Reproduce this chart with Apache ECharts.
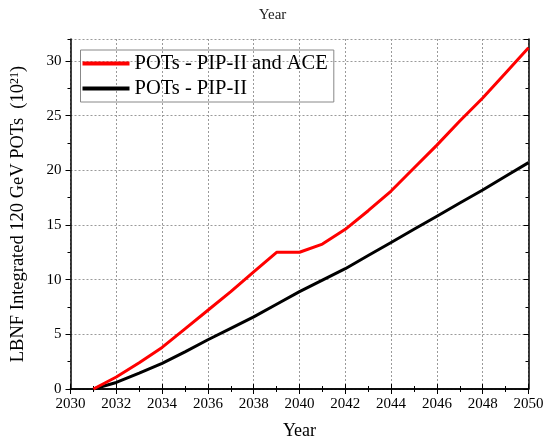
<!DOCTYPE html>
<html>
<head>
<meta charset="utf-8">
<script src="https://cdn.jsdelivr.net/npm/echarts@6/dist/echarts.min.js"></script>
<style>html,body{margin:0;padding:0;background:#fff}#c{width:545px;height:439px}</style>
</head>
<body>
<div id="c"></div>
<script>
const years = [2031,2032,2033,2034,2035,2036,2037,2038,2039,2040,2041,2042,2043,2044,2045,2046,2047,2048,2049,2050];
const potsAce = [0,1.1,2.4,3.8,5.5,7.2,8.9,10.7,12.5,12.5,13.25,14.6,16.3,18.1,20.2,22.3,24.5,26.6,28.9,31.2];
const potsPip = [0,0.6,1.45,2.35,3.4,4.5,5.55,6.6,7.75,8.9,9.95,11.0,12.2,13.4,14.6,15.8,17.0,18.2,19.45,20.7];
const seriesNames = ['POTs - PIP-II and ACE','POTs - PIP-II'];

const font = 'Liberation Serif, Times New Roman, serif';
const chart = echarts.init(document.getElementById('c'), null, {renderer:'canvas'});
const X = {type:'value',min:2030,max:2050};
const Y = {type:'value',min:0,max:32};
function ax(base, extra, opts){
  return Object.assign({}, base, {
    axisLine:{show:!!opts.line,lineStyle:{color:'#000',width:1.5}},
    axisTick:{show:!!opts.tick,inside:!opts.out,length:opts.len||5,lineStyle:{color:'#000',width:1}},
    minorTick:{show:false},minorSplitLine:{show:false},
    splitLine:{show:!!opts.grid,lineStyle:{color:'#9a9a9a',type:[2,2],width:1}},
    axisLabel:{show:false},
    axisPointer:{show:false}
  }, extra);
}
chart.setOption({
  animation:false,
  backgroundColor:'#fff',
  title:{text:'Year',left:'center',top:3,textStyle:{fontFamily:font,fontSize:15,fontWeight:'normal',color:'#222'}},
  grid:{left:70.5,right:16.5,top:39,bottom:50,outerBoundsMode:'none',containLabel:false},
  legend:{
    orient:'vertical',left:80.5,top:50,
    borderColor:'#888',borderWidth:1,padding:[3,6,3,2],itemGap:4,
    icon:'rect',itemWidth:47,itemHeight:4,
    textStyle:{fontFamily:font,fontSize:20.5,color:'#000'},
    data:seriesNames
  },
  xAxis:[
    ax(X,{interval:2,position:'bottom',name:'Year',nameLocation:'middle',nameGap:33,
      nameTextStyle:{fontFamily:font,fontSize:18,color:'#000'},
      axisLabel:{show:true,fontFamily:font,fontSize:15,color:'#000',margin:8,formatter:v=>String(v)}},
      {line:true,tick:true,grid:true}),
    ax(X,{interval:2,position:'top'},{line:true,tick:true}),
    ax(X,{interval:1,position:'bottom'},{tick:true,len:3}),
    ax(X,{interval:1,position:'top'},{tick:true,len:3})
  ],
  yAxis:[
    ax(Y,{interval:5,position:'left',
      name:'LBNF Integrated 120 GeV POTs  (10{sup|21})',nameLocation:'middle',nameGap:42,
      nameTextStyle:{fontFamily:font,fontSize:18.5,color:'#000',
        rich:{sup:{fontFamily:font,fontSize:12,color:'#000',verticalAlign:'top',padding:[0,0,8,0]}}},
      axisLabel:{show:true,fontFamily:font,fontSize:15,color:'#000',margin:9,showMaxLabel:false,
        formatter:v=>(v%5===0?String(v):'')}},
      {line:true,tick:true,out:true,grid:true}),
    ax(Y,{interval:5,position:'right'},{line:true,tick:true}),
    ax(Y,{interval:2.5,position:'left'},{tick:true,out:true,len:3}),
    ax(Y,{interval:2.5,position:'right'},{tick:true,len:3})
  ],
  series:[
    {name:seriesNames[0],type:'line',xAxisIndex:0,yAxisIndex:0,showSymbol:false,
      data:years.map((y,i)=>[y,potsAce[i]]),lineStyle:{color:'#ff0000',width:3},itemStyle:{color:'#ff0000'},z:3},
    {name:seriesNames[1],type:'line',xAxisIndex:0,yAxisIndex:0,showSymbol:false,
      data:years.map((y,i)=>[y,potsPip[i]]),lineStyle:{color:'#000',width:3},itemStyle:{color:'#000'},z:2}
  ]
});
</script>
</body>
</html>
